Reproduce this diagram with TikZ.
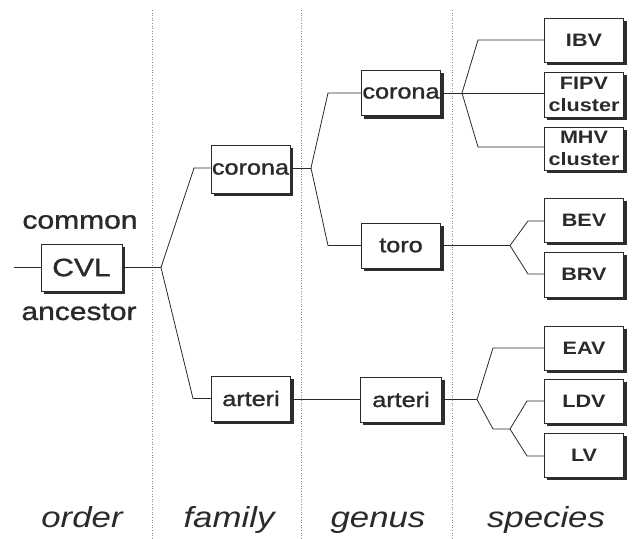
\documentclass[tikz,border=0pt]{standalone}
\usepackage{fontspec}
\setmainfont{Liberation Sans}
\newfontfamily\wfont[FakeStretch=1.2]{Liberation Sans}
\newfontfamily\mfont[FakeStretch=1.2, FakeBold=1.3]{Liberation Sans}
\definecolor{ink}{HTML}{2A2A2A}
\definecolor{shadowgray}{RGB}{45,45,45}
\tikzset{
  box/.style={draw=ink, line width=0.9pt, fill=white, text=ink, minimum width=79pt, minimum height=45pt, inner sep=0pt, align=center},
  shadowline/.style={draw=shadowgray, line width=3pt, line cap=butt, line join=miter},
  mid/.style={box, font=\mfont\fontsize{21}{22}\selectfont},
  spec/.style={box, font=\wfont\bfseries\fontsize{18}{22}\selectfont},
  conn/.style={draw=ink, line width=0.8pt},
  sepline/.style={draw=black!45, line width=0.6pt, dotted},
  lbl/.style={text=ink, font=\mfont\fontsize{25}{26}\selectfont, inner sep=0pt},
  rank/.style={text=ink, font=\wfont\itshape\fontsize{29}{30}\selectfont, inner sep=0pt, anchor=base},
}
\begin{document}
\begin{tikzpicture}[x=1pt, y=-1pt]
\useasboundingbox (0,0) rectangle (633,539);
% dotted column separators
\coordinate (g1a) at (152,10); \coordinate (g1b) at (152,539);
\coordinate (g2a) at (301,10); \coordinate (g2b) at (301,539);
\coordinate (g3a) at (452,10); \coordinate (g3b) at (452,539);
\draw[sepline] (g1a) -- (g1b);
\draw[sepline] (g2a) -- (g2b);
\draw[sepline] (g3a) -- (g3b);

% nodes
\node[box, font=\mfont\fontsize{25}{26}\selectfont, minimum width=81pt, minimum height=47pt] (cvl) at (81.5,267.5) {CVL};
\node[lbl] (common) at (80,222) {common};
\node[lbl] (ancestor) at (79,312) {ancestor};

\node[mid, minimum height=48pt] (fcor) at (250.5,169) {corona};
\node[mid] (fart) at (251,398.5) {arteri};

\node[mid] (gcor) at (401,93) {corona};
\node[mid] (gtor) at (401,245.5) {toro};
\node[mid, minimum width=81pt] (gart) at (401,399.5) {arteri};

\node[spec, minimum height=44pt] (ibv) at (584,40) {IBV};
\node[spec] (fipv) at (584,94.5) {FIPV\\cluster};
\node[spec, minimum height=43pt] (mhv) at (584,148.5) {MHV\\cluster};
\node[spec, minimum height=44pt] (bev) at (584,220) {BEV};
\node[spec] (brv) at (584,274.5) {BRV};
\node[spec, minimum height=44pt] (eav) at (584,348) {EAV};
\node[spec, minimum height=44pt] (ldv) at (584,401) {LDV};
\node[spec, minimum height=44pt] (lv) at (584,455) {LV};

% drop shadows as thick strokes along the right and bottom edges
\draw[shadowline] ([xshift=1.5pt,yshift=-3pt]cvl.north east) -- ([xshift=1.5pt,yshift=-1.5pt]cvl.south east) -- ([xshift=3pt,yshift=-1.5pt]cvl.south west);
\draw[shadowline] ([xshift=1.5pt,yshift=-3pt]fcor.north east) -- ([xshift=1.5pt,yshift=-1.5pt]fcor.south east) -- ([xshift=3pt,yshift=-1.5pt]fcor.south west);
\draw[shadowline] ([xshift=1.5pt,yshift=-3pt]fart.north east) -- ([xshift=1.5pt,yshift=-1.5pt]fart.south east) -- ([xshift=3pt,yshift=-1.5pt]fart.south west);
\draw[shadowline] ([xshift=1.5pt,yshift=-3pt]gcor.north east) -- ([xshift=1.5pt,yshift=-1.5pt]gcor.south east) -- ([xshift=3pt,yshift=-1.5pt]gcor.south west);
\draw[shadowline] ([xshift=1.5pt,yshift=-3pt]gtor.north east) -- ([xshift=1.5pt,yshift=-1.5pt]gtor.south east) -- ([xshift=3pt,yshift=-1.5pt]gtor.south west);
\draw[shadowline] ([xshift=1.5pt,yshift=-3pt]gart.north east) -- ([xshift=1.5pt,yshift=-1.5pt]gart.south east) -- ([xshift=3pt,yshift=-1.5pt]gart.south west);
\draw[shadowline] ([xshift=1.5pt,yshift=-3pt]ibv.north east) -- ([xshift=1.5pt,yshift=-1.5pt]ibv.south east) -- ([xshift=3pt,yshift=-1.5pt]ibv.south west);
\draw[shadowline] ([xshift=1.5pt,yshift=-3pt]fipv.north east) -- ([xshift=1.5pt,yshift=-1.5pt]fipv.south east) -- ([xshift=3pt,yshift=-1.5pt]fipv.south west);
\draw[shadowline] ([xshift=1.5pt,yshift=-3pt]mhv.north east) -- ([xshift=1.5pt,yshift=-1.5pt]mhv.south east) -- ([xshift=3pt,yshift=-1.5pt]mhv.south west);
\draw[shadowline] ([xshift=1.5pt,yshift=-3pt]bev.north east) -- ([xshift=1.5pt,yshift=-1.5pt]bev.south east) -- ([xshift=3pt,yshift=-1.5pt]bev.south west);
\draw[shadowline] ([xshift=1.5pt,yshift=-3pt]brv.north east) -- ([xshift=1.5pt,yshift=-1.5pt]brv.south east) -- ([xshift=3pt,yshift=-1.5pt]brv.south west);
\draw[shadowline] ([xshift=1.5pt,yshift=-3pt]eav.north east) -- ([xshift=1.5pt,yshift=-1.5pt]eav.south east) -- ([xshift=3pt,yshift=-1.5pt]eav.south west);
\draw[shadowline] ([xshift=1.5pt,yshift=-3pt]ldv.north east) -- ([xshift=1.5pt,yshift=-1.5pt]ldv.south east) -- ([xshift=3pt,yshift=-1.5pt]ldv.south west);
\draw[shadowline] ([xshift=1.5pt,yshift=-3pt]lv.north east) -- ([xshift=1.5pt,yshift=-1.5pt]lv.south east) -- ([xshift=3pt,yshift=-1.5pt]lv.south west);

% rank labels
\node[rank] (rorder) at (82,527) {order};
\node[rank] (rfamily) at (229,527) {family};
\node[rank] (rgenus) at (378,527) {genus};
\node[rank] (rspecies) at (546,527) {species};

% junction coordinates
\coordinate (root) at (14,267.5);
\coordinate (b0) at (161,267.5);
\coordinate (k0u) at (194,168);
\coordinate (k0d) at (193,398.5);
\coordinate (b1) at (311,168);
\coordinate (k1u) at (328,93);
\coordinate (k1d) at (328,245.5);
\coordinate (b2) at (462,93);
\coordinate (k2u) at (478,40);
\coordinate (k2d) at (478,147);
\coordinate (b3) at (510,245.5);
\coordinate (k3u) at (528,221);
\coordinate (k3d) at (528,274);
\coordinate (b4) at (477,399.5);
\coordinate (k4u) at (493,348);
\coordinate (k4d) at (493,429);
\coordinate (b5) at (510,429);
\coordinate (k5u) at (527,401);
\coordinate (k5d) at (527,456);

% connectors
\draw[conn] (root) -- (cvl.west);
\draw[conn] (cvl.east) -- (b0);
\draw[conn] (b0) -- (k0u) -- (fcor.west |- k0u);
\draw[conn] (b0) -- (k0d) -- (fart.west);
\draw[conn] (fcor.east |- b1) -- (b1);
\draw[conn] (b1) -- (k1u) -- (gcor.west);
\draw[conn] (b1) -- (k1d) -- (gtor.west);
\draw[conn] (fart.east |- gart.west) -- (gart.west);
\draw[conn] (gcor.east) -- (b2);
\draw[conn] (b2) -- (k2u) -- (ibv.west |- k2u);
\draw[conn] (b2) -- (fipv.west |- b2);
\draw[conn] (b2) -- (k2d) -- (mhv.west |- k2d);
\draw[conn] (gtor.east) -- (b3);
\draw[conn] (b3) -- (k3u) -- (bev.west |- k3u);
\draw[conn] (b3) -- (k3d) -- (brv.west |- k3d);
\draw[conn] (gart.east) -- (b4);
\draw[conn] (b4) -- (k4u) -- (eav.west);
\draw[conn] (b4) -- (k4d) -- (b5);
\draw[conn] (b5) -- (k5u) -- (ldv.west);
\draw[conn] (b5) -- (k5d) -- (lv.west |- k5d);
\end{tikzpicture}
\end{document}
